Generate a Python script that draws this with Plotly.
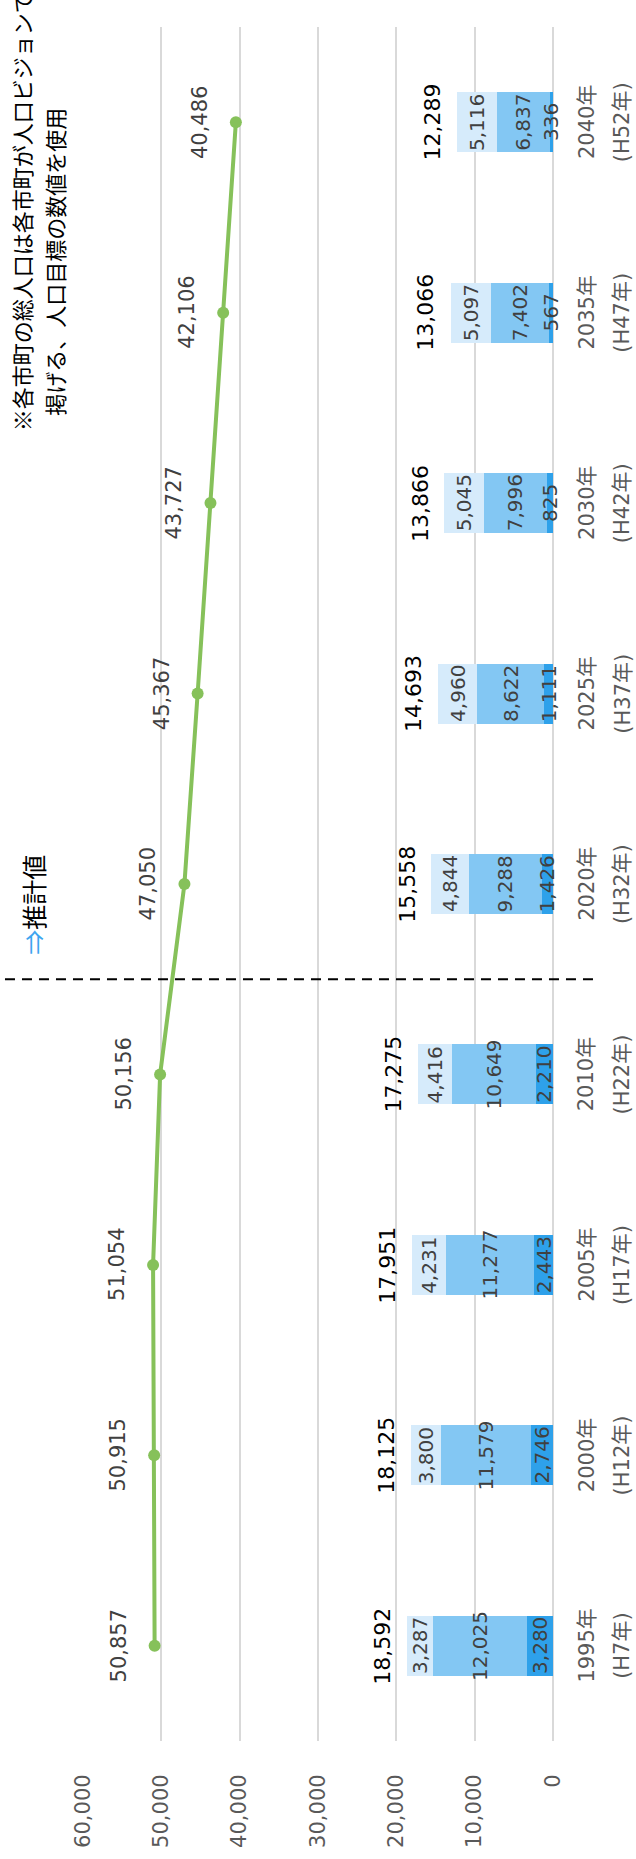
import plotly.graph_objects as go

years = ["1995年", "2000年", "2005年", "2010年", "2020年", "2025年", "2030年", "2035年", "2040年"]
eras = ["(H7年)", "(H12年)", "(H17年)", "(H22年)", "(H32年)", "(H37年)", "(H42年)", "(H47年)", "(H52年)"]
young = [3280, 2746, 2443, 2210, 1426, 1111, 825, 567, 336]
working = [12025, 11579, 11277, 10649, 9288, 8622, 7996, 7402, 6837]
elderly = [3287, 3800, 4231, 4416, 4844, 4960, 5045, 5097, 5116]
bar_totals = [18592, 18125, 17951, 17275, 15558, 14693, 13866, 13066, 12289]
total_pop = [50857, 50915, 51054, 50156, 47050, 45367, 43727, 42106, 40486]
x_ticks = [0, 10000, 20000, 30000, 40000, 50000, 60000]

NUM = "DejaVu Sans, Noto Sans CJK JP"
JP = "Noto Sans CJK JP"
fig = go.Figure()

segments = [(young, "#2EA1EA"), (working, "#83C7F3"), (elderly, "#D6EBFB")]
base = [0] * len(years)
for vals, col in segments:
    fig.add_trace(go.Bar(
        x=vals, y=years, orientation="h", width=0.315, marker=dict(color=col, line_width=0),
        showlegend=False))
    # segment value labels, centred on each segment
    for b, v, y in zip(base, vals, years):
        fig.add_annotation(x=b + v / 2, y=y, xref="x", yref="y", text=f"{v:,}",
                           showarrow=False, textangle=-90, xanchor="center", yanchor="middle",
                           font=dict(family=NUM, size=20, color="#404040"))
    base = [b + v for b, v in zip(base, vals)]

fig.add_trace(go.Scatter(
    x=total_pop, y=years, mode="lines+markers", line=dict(color="#86C15A", width=4),
    marker=dict(size=12, color="#86C15A"), showlegend=False, cliponaxis=False))

for t, y in zip(bar_totals, years):
    fig.add_annotation(x=t, y=y, xref="x", yref="y", text=f"{t:,}", showarrow=False,
                       textangle=-90, xanchor="right", yanchor="middle", xshift=-10,
                       font=dict(family=NUM, size=22, color="#000000"))

for v, y in zip(total_pop, years):
    fig.add_annotation(x=v, y=y, xref="x", yref="y", text=f"{v:,}", showarrow=False,
                       textangle=-90, xanchor="right", yanchor="middle", xshift=-22,
                       font=dict(family=NUM, size=21, color="#404040"))

# two-line category labels on the right
for y, era in zip(years, eras):
    fig.add_annotation(x=1.072, y=y, xref="paper", yref="y", text=y, showarrow=False,
                       textangle=-90, xanchor="center", yanchor="middle",
                       font=dict(family=NUM, size=21, color="#595959"))
    fig.add_annotation(x=1.147, y=y, xref="paper", yref="y", text=era, showarrow=False,
                       textangle=-90, xanchor="center", yanchor="middle",
                       font=dict(family=NUM, size=21, color="#595959"))

fig.add_shape(type="line", xref="paper", yref="y", x0=-0.166, x1=1.096, y0=3.5, y1=3.5,
              line=dict(color="#000000", width=2, dash="10px,7px"))

fig.add_annotation(xref="paper", yref="paper", x=-0.108, y=0.488, showarrow=False,
                   text='<span style="color:#3DA5F0">⇒</span>推計値', textangle=-90,
                   xanchor="center", yanchor="middle",
                   font=dict(family=JP, size=25, color="#000000"))

fig.add_annotation(xref="paper", yref="paper", x=-0.132, y=0.763, showarrow=False,
                   text="※各市町の総人口は各市町が人口ビジョンで",
                   textangle=-90, xanchor="center", yanchor="bottom",
                   font=dict(family=JP, size=22, color="#000000"))
fig.add_annotation(xref="paper", yref="paper", x=-0.062, y=0.772, showarrow=False,
                   text="掲げる、人口目標の数値を使用",
                   textangle=-90, xanchor="center", yanchor="bottom",
                   font=dict(family=JP, size=22, color="#000000"))

fig.update_layout(
    width=636, height=1859, barmode="stack",
    margin=dict(l=83, r=83, t=27, b=118, autoexpand=False),
    plot_bgcolor="white", paper_bgcolor="white",
    font=dict(family=NUM),
    xaxis=dict(range=[60000, 0], tickvals=x_ticks, tickformat=",", tickangle=-90,
               automargin=False,
               showgrid=True, gridcolor="#D9D9D9", gridwidth=1.5,
               zeroline=True, zerolinecolor="#D9D9D9", zerolinewidth=1.5,
               showline=False, ticks="outside", ticklen=24, tickcolor="rgba(0,0,0,0)",
               tickfont=dict(family=NUM, size=21, color="#595959")),
    yaxis=dict(type="category", categoryorder="array", categoryarray=years,
               automargin=False,
               showticklabels=False, showgrid=False, showline=False, zeroline=False),
)

fig.write_html("out.html", config={"displayModeBar": False},
               post_script="document.body.style.margin='0';")
